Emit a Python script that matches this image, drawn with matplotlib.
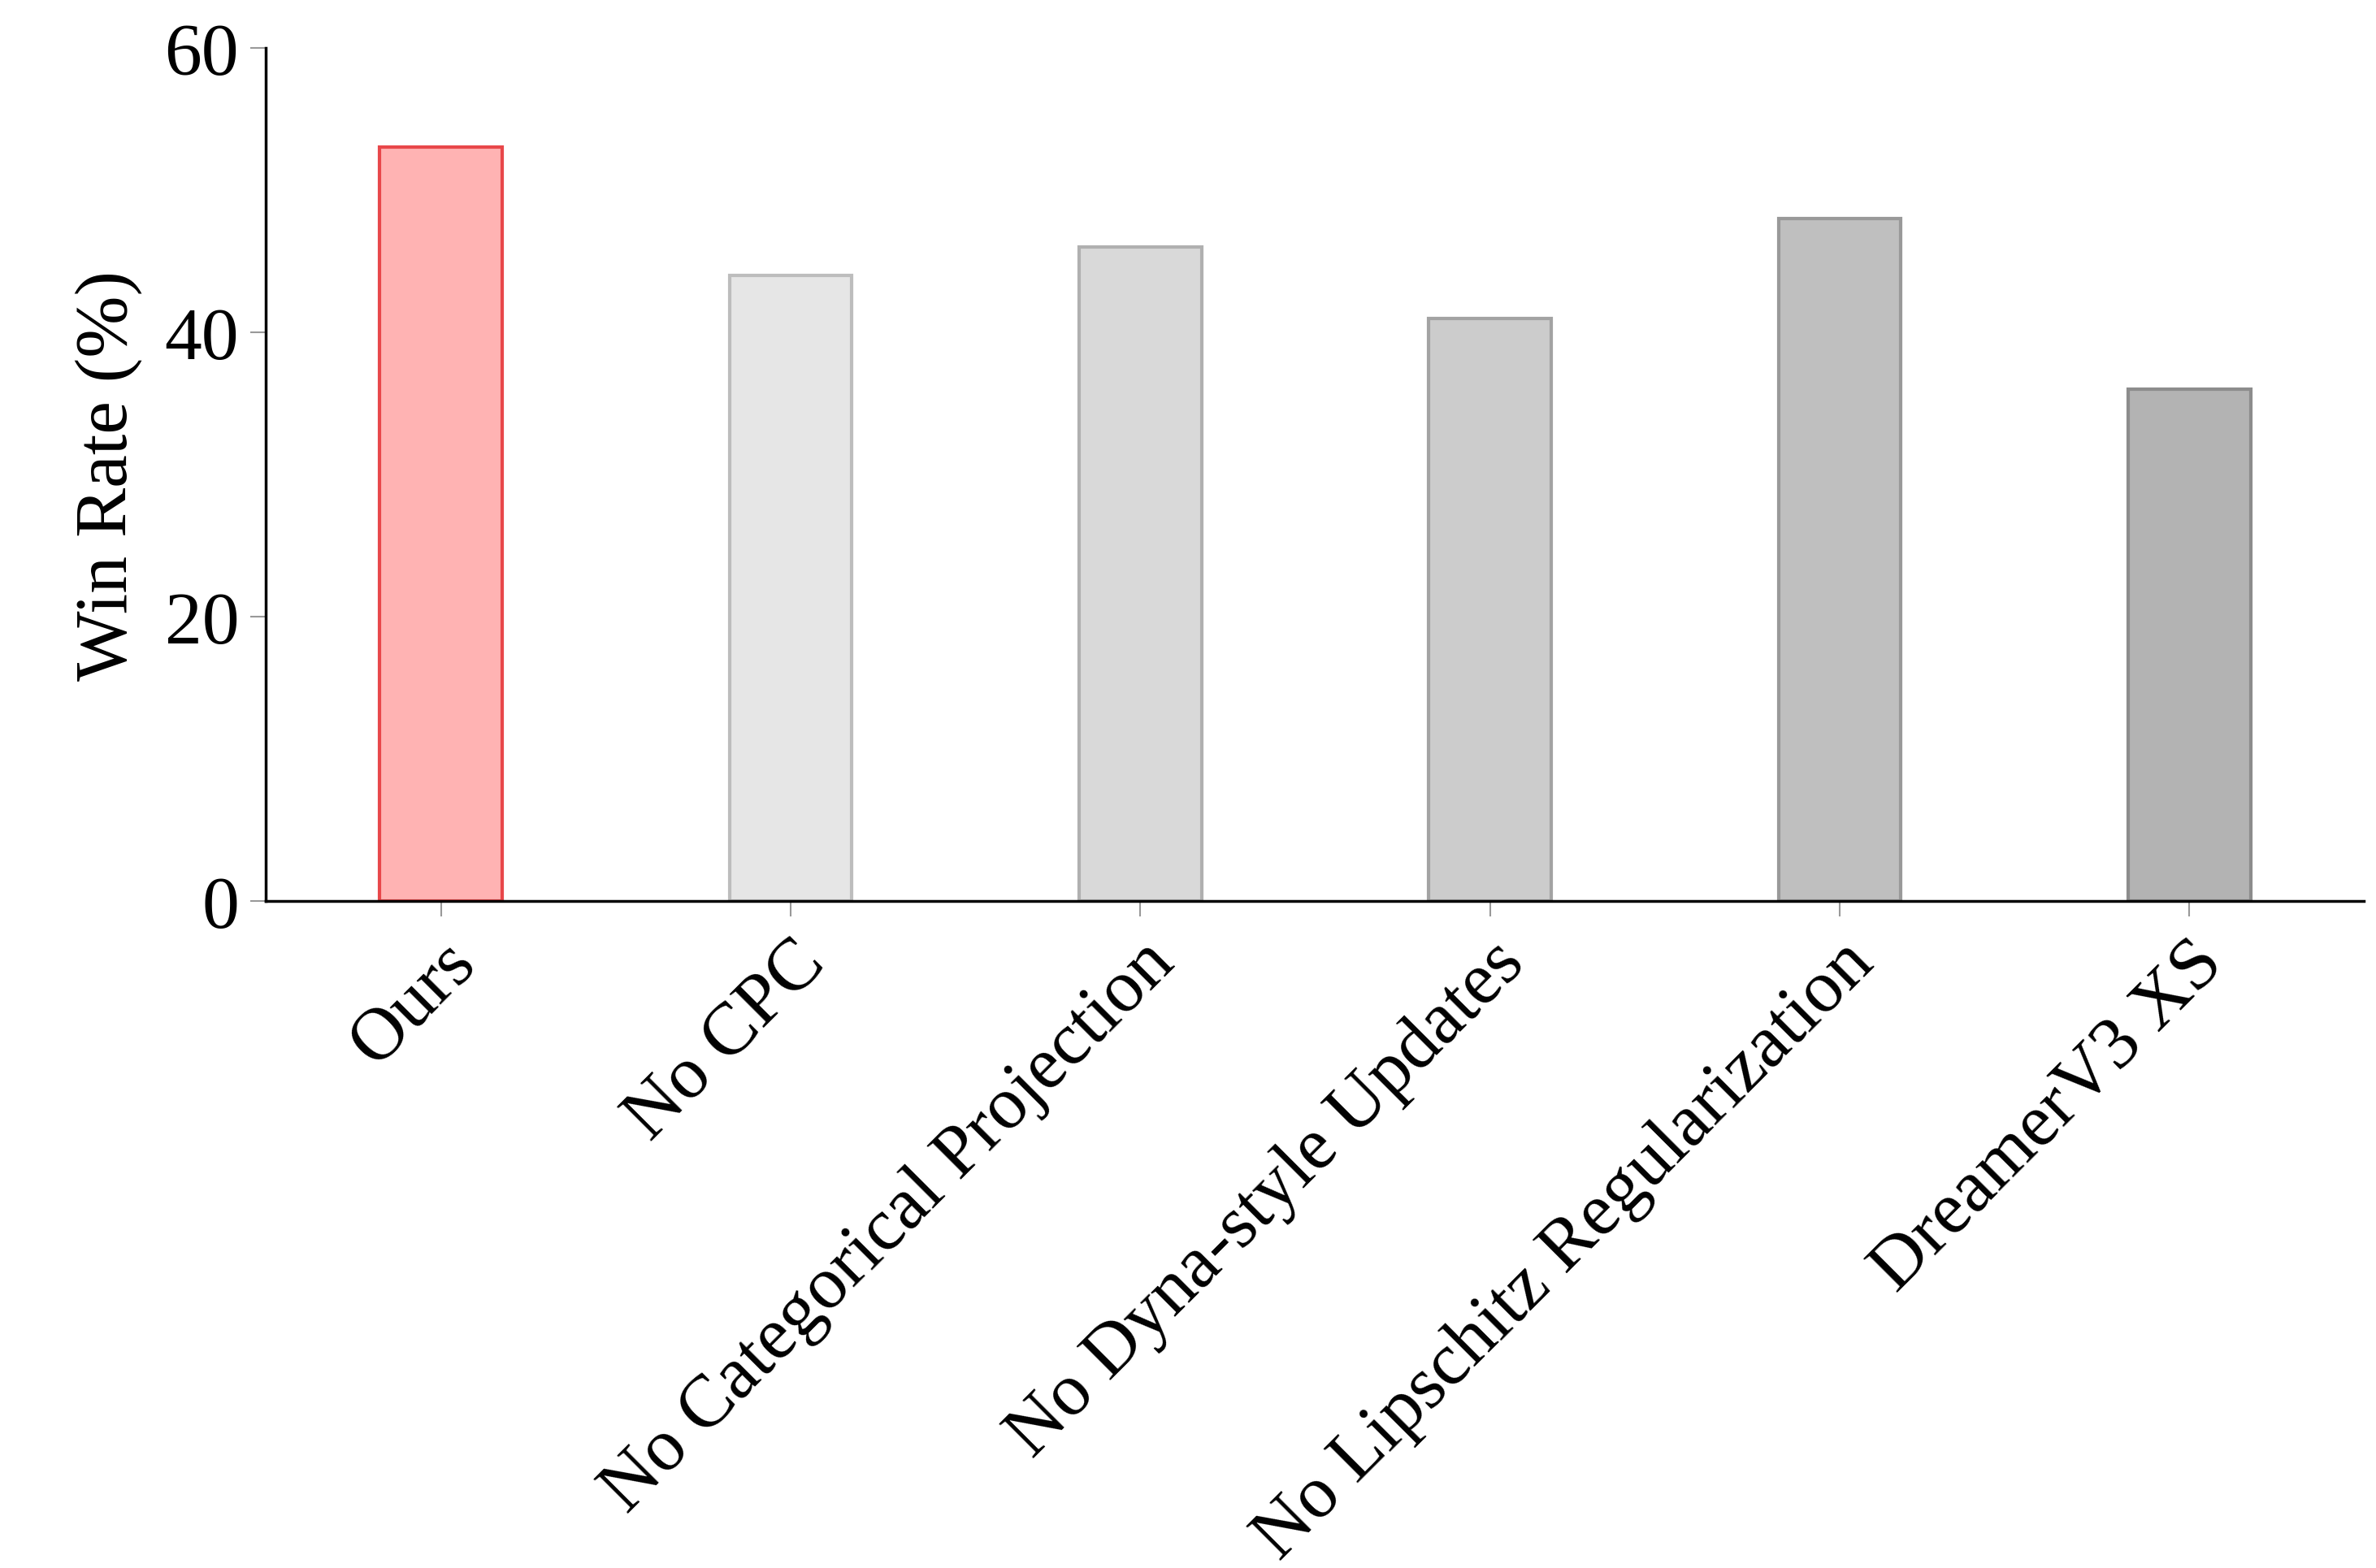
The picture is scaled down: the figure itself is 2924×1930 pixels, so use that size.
import matplotlib.pyplot as plt

categories = ['Ours', 'No CPC', 'No Categorical Projection', 'No Dyna-style Updates',
              'No Lipschitz Regularization', 'DreamerV3 XS']
win_rate = [53, 44, 46, 41, 48, 36]
fills = ['#ffb3b3', '#e6e6e6', '#d9d9d9', '#cccccc', '#bfbfbf', '#b3b3b3']
edges = ['#e8474a', '#bdbdbd', '#b0b0b0', '#a3a3a3', '#999999', '#8c8c8c']

plt.rcParams['font.family'] = ['Liberation Serif', 'DejaVu Serif']
fig = plt.figure(figsize=(29.24, 19.31), dpi=100)
ax = fig.add_axes([0.112, 0.425, 0.883, 0.544])

x = range(len(categories))
ax.bar(x, win_rate, width=0.35, color=fills, edgecolor=edges, linewidth=3)

ax.set_xlim(-0.5, 5.5)
ax.set_ylim(0, 60)
ax.set_yticks([0, 20, 40, 60])
ax.set_xticks(list(x))
ax.set_xticklabels(categories, rotation=45, ha='right', rotation_mode='anchor')
ax.tick_params(axis='both', labelsize=66, width=1.5, length=14, color='#999999', pad=10)
ax.set_ylabel('Win Rate (%)', fontsize=66, labelpad=20)
ax.spines['top'].set_visible(False)
ax.spines['right'].set_visible(False)
ax.spines['left'].set_linewidth(2.5)
ax.spines['bottom'].set_linewidth(2.5)

fig.savefig('out.png', dpi=100)
